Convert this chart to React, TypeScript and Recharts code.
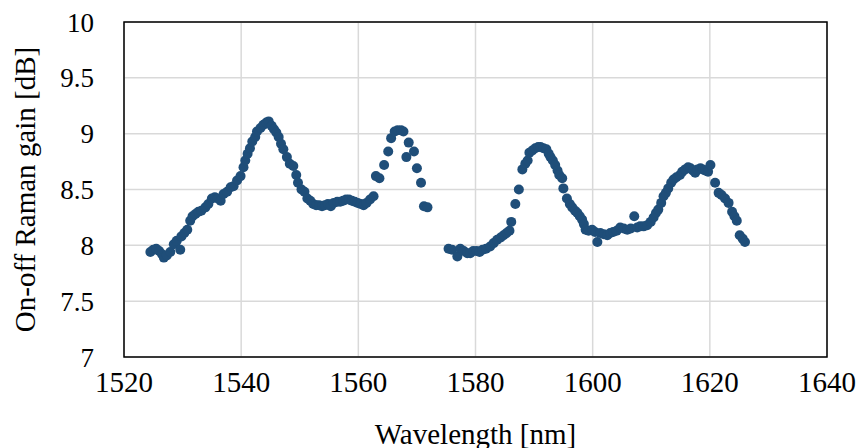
import React from "react";
import {
  ScatterChart,
  Scatter,
  XAxis,
  YAxis,
  CartesianGrid,
  ReferenceArea,
} from "recharts";

// wavelength [nm] of each measured point
const wavelength = [
  1524.5, 1525.0, 1525.5, 1526.0, 1526.5, 1526.8, 1527.3, 1527.9, 1528.5, 1529.0,
  1529.6, 1529.8, 1530.3, 1530.8, 1531.3, 1531.7, 1532.2, 1532.7, 1533.2, 1533.9,
  1534.4, 1535.0, 1535.5, 1536.0, 1536.5, 1537.0, 1537.6, 1538.2, 1538.7, 1539.3,
  1539.9, 1540.4, 1540.7, 1541.1, 1541.5, 1541.9, 1542.4, 1542.7, 1543.3, 1543.8,
  1544.3, 1544.7, 1545.2, 1545.6, 1546.0, 1546.4, 1546.8, 1547.2, 1547.8, 1548.3,
  1548.9, 1549.4, 1549.7, 1550.3, 1550.8, 1551.3, 1551.8, 1552.3, 1552.8, 1553.3,
  1553.8, 1554.3, 1554.8, 1555.3, 1555.8, 1556.4, 1556.9, 1557.4, 1557.9, 1558.4,
  1558.9, 1559.4, 1559.9, 1560.4, 1560.9, 1561.4, 1562.0, 1562.6, 1563.0, 1563.6,
  1564.4, 1565.1, 1565.6, 1566.2, 1566.7, 1567.3, 1567.7, 1568.2, 1568.6, 1569.5,
  1570.0, 1570.7, 1571.2, 1571.8,
  1575.4, 1576.0, 1576.9, 1577.4, 1578.0, 1578.6, 1579.1, 1579.6, 1580.2, 1580.7,
  1581.2, 1581.8, 1582.5, 1583.1, 1583.7, 1584.3, 1584.8, 1585.3, 1585.8, 1586.1,
  1586.8, 1587.4, 1588.0, 1588.5, 1588.9, 1589.2, 1589.7, 1590.2, 1590.7, 1591.1,
  1591.6, 1592.1, 1592.5, 1592.8, 1593.2, 1593.6, 1594.0, 1594.3, 1594.8, 1595.0,
  1595.6, 1596.1, 1596.5, 1597.0, 1597.4, 1597.8, 1598.2, 1598.5, 1598.8, 1599.3,
  1599.9, 1600.4, 1600.8, 1601.3, 1601.9, 1602.5, 1603.0, 1603.5, 1604.1, 1604.7,
  1605.3, 1605.9, 1606.5, 1607.1, 1607.6, 1608.1, 1608.7, 1609.3, 1609.9, 1610.4,
  1610.8, 1611.2, 1611.7, 1612.1, 1612.5, 1612.9, 1613.4, 1613.8, 1614.3, 1614.9,
  1615.3, 1615.8, 1616.3, 1616.7, 1617.1, 1617.5, 1617.9, 1618.4, 1618.8, 1619.2,
  1619.7, 1620.1, 1620.9, 1621.5, 1622.0, 1622.6, 1623.2, 1623.8, 1624.2, 1624.6,
  1625.1, 1625.6, 1626.0,
];

// on-off Raman gain [dB], same order as wavelength
const gain = [
  7.94, 7.96, 7.97, 7.95, 7.92, 7.89, 7.91, 7.94, 8.01, 8.04,
  7.96, 8.08, 8.11, 8.14, 8.22, 8.26, 8.28, 8.30, 8.31, 8.34,
  8.37, 8.42, 8.43, 8.42, 8.40, 8.46, 8.48, 8.52, 8.53, 8.58,
  8.62, 8.70, 8.76, 8.82, 8.87, 8.93, 8.97, 9.02, 9.05, 9.08,
  9.10, 9.11, 9.07, 9.04, 9.01, 8.97, 8.91, 8.86, 8.79, 8.73,
  8.71, 8.63, 8.56, 8.50, 8.48, 8.42, 8.40, 8.37, 8.36, 8.36,
  8.35, 8.36, 8.37, 8.35, 8.38, 8.39, 8.39, 8.40, 8.41, 8.41,
  8.40, 8.39, 8.38, 8.37, 8.36, 8.38, 8.41, 8.44, 8.62, 8.60,
  8.72, 8.84, 8.96, 9.02, 9.03, 9.03, 9.02, 8.79, 8.92, 8.84,
  8.69, 8.56, 8.35, 8.34,
  7.97, 7.96, 7.90, 7.97, 7.95, 7.93, 7.93, 7.95, 7.95, 7.94,
  7.96, 7.97, 7.99, 8.02, 8.05, 8.07, 8.09, 8.11, 8.13, 8.21,
  8.37, 8.50, 8.68, 8.73, 8.76, 8.83, 8.85, 8.87, 8.88, 8.88,
  8.87, 8.86, 8.82, 8.79, 8.76, 8.72, 8.67, 8.63, 8.60, 8.51,
  8.42, 8.37, 8.34, 8.31, 8.29, 8.26, 8.23, 8.19, 8.14, 8.13,
  8.14, 8.12, 8.03, 8.11, 8.10, 8.09, 8.11, 8.12, 8.13, 8.16,
  8.15, 8.14, 8.15, 8.26, 8.16, 8.17, 8.17, 8.18, 8.21, 8.25,
  8.29, 8.32, 8.38, 8.44, 8.47, 8.51, 8.56, 8.59, 8.61, 8.63,
  8.66, 8.68, 8.70, 8.69, 8.67, 8.65, 8.68, 8.69, 8.68, 8.67,
  8.66, 8.72, 8.56, 8.47, 8.45, 8.42, 8.38, 8.30, 8.26, 8.22,
  8.09, 8.06, 8.03,
];

const xTicks = [1520, 1540, 1560, 1580, 1600, 1620, 1640];
const yTicks = [7, 7.5, 8, 8.5, 9, 9.5, 10];

const points = wavelength.map((w, i) => ({ w, g: gain[i] }));

const FONT = "'Liberation Serif', 'Times New Roman', serif";

const Dot = (props: any) => (
  <circle cx={props.cx} cy={props.cy} r={5} fill="#1f4e79" />
);

export default function App() {
  return (
    <div style={{ position: "absolute", left: 0, top: 0, width: 856, height: 448, background: "#fff" }}>
      <ScatterChart
        width={856}
        height={448}
        margin={{ top: 22, right: 29, bottom: 0, left: 0 }}
      >
        <CartesianGrid stroke="#d9d9d9" strokeWidth={1.5} />
        <XAxis
          type="number"
          dataKey="w"
          domain={[1520, 1640]}
          ticks={xTicks}
          height={91}
          axisLine={false}
          tickLine={false}
          tickSize={0}
          tickMargin={14}
          tick={{ fill: "#000", fontSize: 29, fontFamily: FONT }}
          label={{
            value: "Wavelength [nm]",
            position: "insideBottom",
            offset: 4,
            style: { fill: "#000", fontSize: 29, fontFamily: FONT },
          }}
        />
        <YAxis
          type="number"
          dataKey="g"
          domain={[7, 10]}
          ticks={yTicks}
          width={124}
          axisLine={false}
          tickLine={false}
          tickSize={0}
          tickMargin={30}
          tick={{ fill: "#000", fontSize: 27, fontFamily: FONT }}
          label={{
            value: "On-off Raman gain [dB]",
            angle: -90,
            position: "insideLeft",
            offset: 25,
            style: { fill: "#000", fontSize: 29, fontFamily: FONT, textAnchor: "middle" },
          }}
        />
        <ReferenceArea
          x1={1520}
          x2={1640}
          y1={7}
          y2={10}
          fill="none"
          stroke="#000"
          strokeWidth={1.5}
          fillOpacity={0}
        />
        <Scatter data={points} shape={Dot} isAnimationActive={false} />
      </ScatterChart>
    </div>
  );
}
